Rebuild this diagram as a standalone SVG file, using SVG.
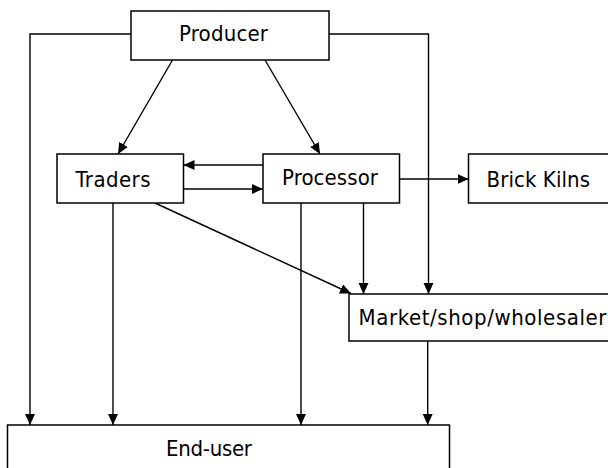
<svg xmlns="http://www.w3.org/2000/svg" width="608" height="468" viewBox="0 0 608 468">
<defs>
<marker id="ah" markerUnits="userSpaceOnUse" markerWidth="12" markerHeight="11" refX="11" refY="5" orient="auto">
<path d="M0,0 L11,5 L0,10 z" fill="#000"/>
</marker>
<style>
.box{fill:#fff;stroke:#000;stroke-width:1.5}
.lbl{font-family:"DejaVu Sans Condensed","DejaVu Sans",sans-serif;font-stretch:condensed;font-size:22px;fill:#000}
.c{fill:none;stroke:#000;stroke-width:1.4}
.a{marker-end:url(#ah)}
</style>
</defs>
<rect width="608" height="468" fill="#fff"/>
<g id="connectors">
<polyline class="c a" points="131,34 30,34 30,425"/>
<polyline class="c a" points="329,34 428.5,34 428.5,294"/>
<line class="c a" x1="172.5" y1="60" x2="118" y2="154"/>
<line class="c a" x1="265" y1="60" x2="320" y2="154"/>
<line class="c a" x1="263" y1="165" x2="183.5" y2="165"/>
<line class="c a" x1="183.5" y1="189" x2="263" y2="189"/>
<line class="c a" x1="399.5" y1="179" x2="468.5" y2="179"/>
<line class="c a" x1="155" y1="203" x2="351" y2="293.5"/>
<line class="c a" x1="363.5" y1="203" x2="363.5" y2="294"/>
<line class="c a" x1="113" y1="203" x2="113" y2="425"/>
<line class="c a" x1="301" y1="203" x2="301" y2="425"/>
<line class="c a" x1="427.7" y1="341" x2="427.7" y2="425"/>
</g>
<g id="producer">
<rect class="box" x="131" y="11" width="198" height="49"/>
<text class="lbl" x="223.5" y="40.5" text-anchor="middle" textLength="89">Producer</text>
</g>
<g id="traders">
<rect class="box" x="57" y="154" width="126.5" height="49"/>
<text class="lbl" x="75.5" y="186.5" textLength="75">Traders</text>
</g>
<g id="processor">
<rect class="box" x="263" y="154" width="136.5" height="49"/>
<text class="lbl" x="282" y="185" textLength="96">Processor</text>
</g>
<g id="brick-kilns">
<rect class="box" x="468.5" y="154" width="150" height="49"/>
<text class="lbl" x="486.5" y="187" textLength="103.5">Brick Kilns</text>
</g>
<g id="market">
<rect class="box" x="349" y="294" width="270" height="47"/>
<text class="lbl" x="358.5" y="325" textLength="248">Market/shop/wholesaler</text>
</g>
<g id="end-user">
<rect class="box" x="7.5" y="425" width="442" height="60"/>
<text class="lbl" x="166" y="455.5" textLength="86">End-user</text>
</g>
</svg>
